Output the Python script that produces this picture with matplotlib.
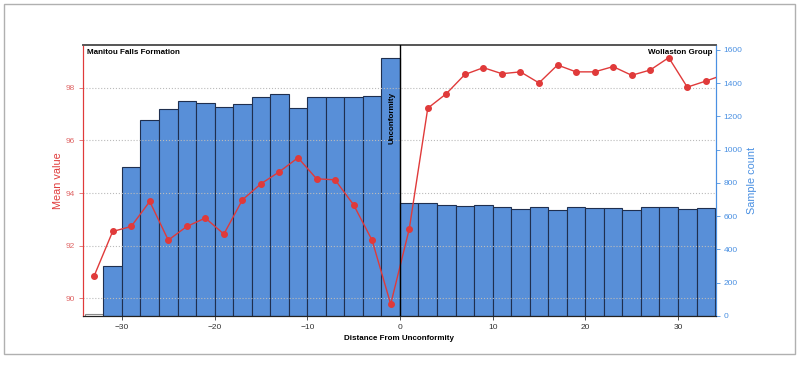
import matplotlib.pyplot as plt
import matplotlib.patches as mpatches
import numpy as np

# =============================== #
# dados

bordas = np.arange(-34, 36, 2)

contagem = [12, 301, 896, 1179, 1245, 1293, 1281, 1257, 1275, 1317, 1335, 1251,
            1317, 1317, 1317, 1323, 1552,
            680, 680, 668, 662, 668, 656, 644, 656, 638, 656, 650, 650, 638,
            656, 656, 644, 650]

centros = [-33, -31, -29, -27, -25, -23, -21, -19, -17, -15, -13, -11, -9, -7,
           -5, -3, -1, 1, 3, 5, 7, 9, 11, 13, 15, 17, 19, 21, 23, 25, 27, 29,
           31, 33, 35]

media = [90.85, 92.54, 92.73, 93.68, 92.21, 92.73, 93.05, 92.44, 93.74, 94.35,
         94.81, 95.34, 94.54, 94.50, 93.55, 92.20, 89.78, 92.63, 97.22, 97.77,
         98.50, 98.76, 98.53, 98.60, 98.18, 98.86, 98.60, 98.60, 98.80, 98.47,
         98.67, 99.14, 98.02, 98.25, 98.5]

# =============================== #

plt.rcParams['font.family'] = ['Liberation Sans', 'DejaVu Sans']

cor_media = '#e03a3a'
cor_tick_media = '#e06868'
cor_contagem = '#4a90e2'
cor_barra = '#588fd8'

fig = plt.figure(figsize=(8.04, 3.65), dpi=100)
fig.patches.append(mpatches.Rectangle((4 / 804, 1 - 354 / 365), 791 / 804, 350 / 365,
                                      transform=fig.transFigure, fill=False,
                                      edgecolor='#b0b0b0', linewidth=1.0))

ax = fig.add_axes([83 / 804, 1 - 316 / 365, 633 / 804, 271 / 365])
ax2 = ax.twinx()

# histograma (eixo direito)
ax2.bar(bordas[:-1], contagem, width=2, align='edge', color=cor_barra,
        edgecolor='#1f2f4f', linewidth=0.8)
ax2.patches[0].set_facecolor('white')
ax2.patches[0].set_edgecolor('#8a8a8a')
ax2.set_ylim(0, 1630)
ax2.set_yticks(np.arange(0, 1601, 200))
ax2.tick_params(axis='y', colors=cor_contagem, labelsize=6, length=3, width=0.6, pad=2.5)
ax2.set_ylabel('Sample count', color=cor_contagem, fontsize=7.8, labelpad=3)

# media (eixo esquerdo, por cima)
ax.set_zorder(ax2.get_zorder() + 1)
ax.patch.set_visible(False)
ax.plot(centros, media, '-o', color=cor_media, lw=1.0, markersize=4, zorder=5)
ax.set_xlim(-34.2, 34.1)
ax.set_ylim(89.33, 99.62)
ax.set_yticks([90, 92, 94, 96, 98])
ax.grid(axis='y', linestyle=':', color='#bbbbbb', linewidth=0.8)
ax.tick_params(axis='y', colors=cor_tick_media, labelsize=6, length=3, width=0.6, pad=2.5)
ax.tick_params(axis='x', colors='#333333', labelsize=6, length=3, width=0.6, pad=2.5)
ax.set_ylabel('Mean value', color=cor_media, fontsize=7.8, labelpad=2)
ax.set_xlabel('Distance From Unconformity', fontsize=5.8, fontweight='bold', labelpad=3)

# linha da discordancia
ax.axvline(0, color='black', linewidth=1.0, zorder=6)
ax.text(-0.5, 0.73, 'Unconformity', rotation=90, ha='right', va='center',
        fontsize=5.8, fontweight='bold', transform=ax.get_xaxis_transform(), zorder=7)

ax.text(0.006, 0.985, 'Manitou Falls Formation', ha='left', va='top', fontsize=5.8,
        fontweight='bold', transform=ax.transAxes)
ax.text(0.995, 0.985, 'Wollaston Group', ha='right', va='top', fontsize=5.8,
        fontweight='bold', transform=ax.transAxes)

# bordas
for a in (ax, ax2):
    a.spines['left'].set_color(cor_media)
    a.spines['right'].set_color(cor_contagem)
    a.spines['top'].set_color('#555555')
    a.spines['bottom'].set_color('#222222')
    a.spines['top'].set_linewidth(1.2)

plt.savefig('out.png', dpi=100)
